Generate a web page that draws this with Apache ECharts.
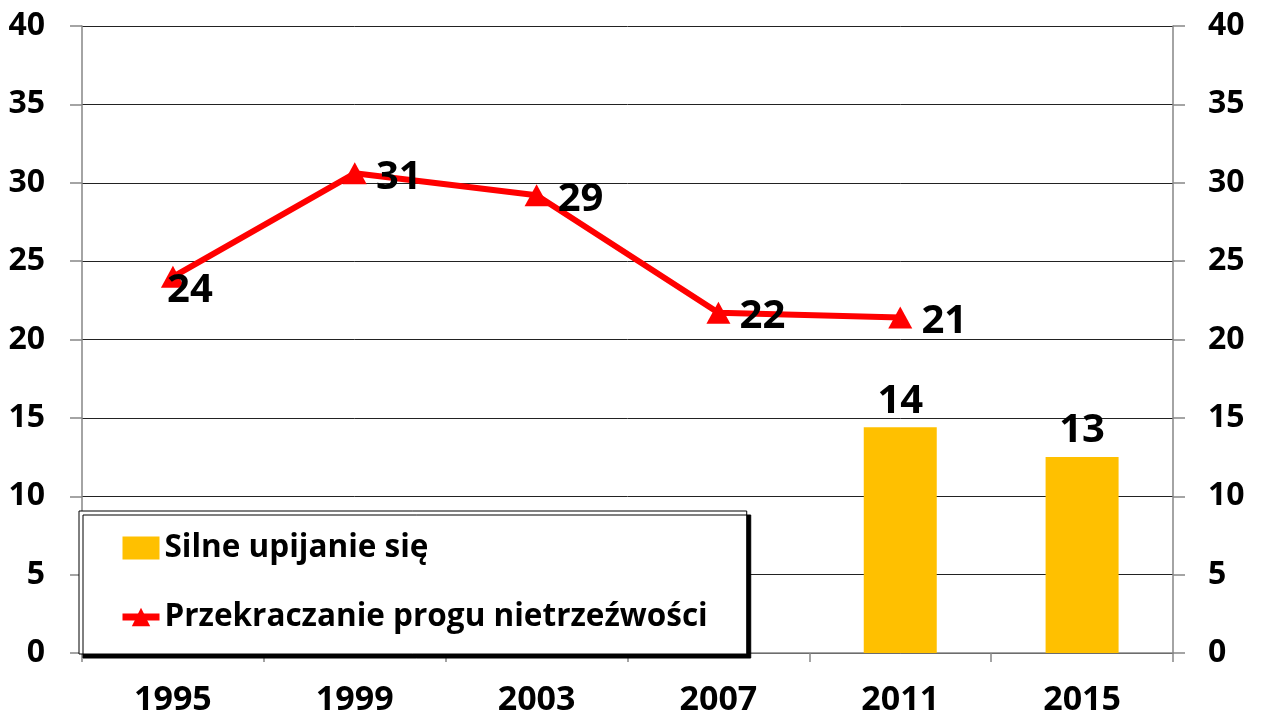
<!DOCTYPE html>
<html>
<head>
<meta charset="utf-8">
<script src="https://cdn.jsdelivr.net/npm/echarts@6/dist/echarts.min.js"></script>
<style>
  html, body { margin: 0; padding: 0; background: #fff; }
  #chart { width: 1261px; height: 717px; }
</style>
</head>
<body>
<div id="chart"></div>
<script>
const years = ['1995', '1999', '2003', '2007', '2011', '2015']
const heavyDrinking = [null, null, null, null, 14.4, 12.5]
const overLimit = [24, 30.6, 29.2, 21.7, 21.4, null]
const seriesNames = ['Silne upijanie się', 'Przekraczanie progu nietrzeźwości']

const font = '"Open Sans", "Noto Sans", sans-serif'
const tickLabel = { color: '#000', fontFamily: font, fontWeight: 'bold', fontSize: 32 }
const valueLabel = { color: '#000', fontFamily: font, fontWeight: 'bold', fontSize: 40 }

const chart = echarts.init(document.getElementById('chart'))

chart.setOption({
  animation: false,
  grid: { left: 82, right: 88, top: 26, bottom: 64 },
  legend: {
    orient: 'vertical',
    left: 79,
    top: 511,
    padding: [19, 39, 19, 40],
    itemGap: 33,
    itemWidth: 37,
    itemHeight: 23,
    backgroundColor: '#fff',
    borderColor: '#000',
    borderWidth: 1,
    borderRadius: 0,
    shadowColor: '#000',
    shadowOffsetX: 4,
    shadowOffsetY: 4,
    shadowBlur: 0,
    textStyle: { color: '#000', fontFamily: font, fontWeight: 'bold', fontSize: 31.5, lineHeight: 36 },
    data: [
      { name: seriesNames[0], icon: 'rect' },
      { name: seriesNames[1], lineStyle: { width: 7 } }
    ]
  },
  xAxis: {
    type: 'category',
    data: years,
    axisLine: { lineStyle: { color: '#868686', width: 1.5 } },
    axisTick: { show: true, length: 9, lineStyle: { color: '#868686', width: 1.5 } },
    axisLabel: { ...tickLabel, fontSize: 34, margin: 30 }
  },
  yAxis: [
    {
      type: 'value',
      min: 0,
      max: 40,
      interval: 5,
      axisLine: { show: true, lineStyle: { color: '#868686', width: 1.5 } },
      axisTick: { show: true, length: 12, lineStyle: { color: '#868686', width: 1.5 } },
      axisLabel: { ...tickLabel, margin: 37 },
      splitLine: { lineStyle: { color: '#222', width: 1 } }
    },
    {
      type: 'value',
      min: 0,
      max: 40,
      interval: 5,
      position: 'right',
      axisLine: { show: true, lineStyle: { color: '#868686', width: 1.5 } },
      axisTick: { show: true, length: 12, lineStyle: { color: '#868686', width: 1.5 } },
      axisLabel: { ...tickLabel, margin: 35 },
      splitLine: { show: false }
    }
  ],
  series: [
    {
      name: seriesNames[0],
      type: 'bar',
      data: heavyDrinking,
      barWidth: 73,
      itemStyle: { color: '#FFC000' },
      label: {
        show: true,
        position: 'top',
        distance: 6,
        ...valueLabel,
        formatter: (p) => Math.round(p.value)
      }
    },
    {
      name: seriesNames[1],
      type: 'line',
      data: overLimit.map((v, i) => i === 0
        ? { value: v, label: { offset: [17, 14] } }
        : v),
      symbol: 'triangle',
      symbolSize: [24, 22],
      lineStyle: { color: '#FF0000', width: 6 },
      itemStyle: { color: '#FF0000' },
      label: {
        show: true,
        position: 'inside',
        offset: [44, 4],
        ...valueLabel,
        formatter: (p) => Math.round(p.value)
      },
      z: 3
    }
  ]
})
</script>
</body>
</html>
